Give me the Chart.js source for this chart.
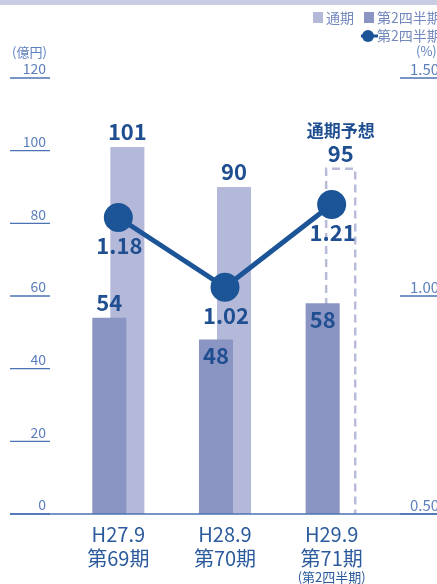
<!DOCTYPE html>
<html>
<head>
<meta charset="utf-8">
<script src="https://cdn.jsdelivr.net/npm/chart.js@4/dist/chart.umd.min.js"></script>
<style>
  html, body { margin: 0; padding: 0; background: #fff; overflow: hidden; }
</style>
</head>
<body>
<canvas id="chart" width="437" height="584"></canvas>
<script>
// data
const periods = [['H27.9', '第69期'], ['H28.9', '第70期'], ['H29.9', '第71期']];
const periodNotes = ['', '', '(第2四半期)'];
const fullYear = [101, 90, 95];        // 通期 (億円), last one is 通期予想
const secondQuarter = [54, 48, 58];    // 第2四半期 (億円)
const ratio = [1.18, 1.02, 1.21];      // 第2四半期 (%)
const leftTicks = [0, 20, 40, 60, 80, 100, 120];
const rightTicks = [0.5, 1.0, 1.5];

const FONT = '"Noto Sans CJK JP", "Noto Sans", sans-serif';
const LIGHT = '#b5b9d9';
const DARK = '#8a95c3';
const LINE = '#1c5597';
const LABEL = '#1f4f91';
const AXIS = '#5b7fbd';

const extras = {
  id: 'extras',
  beforeDatasetsDraw(chart) {
    // dashed outline for the forecast bar
    const ctx = chart.ctx;
    const el = chart.getDatasetMeta(2).data[2];
    const p = el.getProps(['x', 'y', 'base', 'width'], true);
    const l = p.x - p.width / 2 + 2.5, r = p.x + p.width / 2 - 2.5;
    ctx.save();
    ctx.strokeStyle = '#b8bcda';
    ctx.lineWidth = 2.5;
    ctx.setLineDash([8, 5]);
    ctx.beginPath();
    ctx.moveTo(l, p.base);
    ctx.lineTo(l, p.y);
    ctx.lineTo(r, p.y);
    ctx.lineTo(r, p.base);
    ctx.stroke();
    ctx.restore();
  },
  afterDatasetsDraw(chart) {
    const ctx = chart.ctx;
    ctx.save();
    ctx.fillStyle = LABEL;
    ctx.textAlign = 'center';
    ctx.textBaseline = 'middle';
    ctx.font = 'bold 22px ' + FONT;

    const fy = chart.getDatasetMeta(2).data;
    fy.forEach((el, i) => ctx.fillText(fullYear[i], el.x, el.y - 15));
    ctx.font = 'bold 17px ' + FONT;
    ctx.fillText('通期予想', fy[2].x, fy[2].y - 38);

    ctx.font = 'bold 22px ' + FONT;
    const q = chart.getDatasetMeta(1).data;
    q.forEach((el, i) => {
      const dy = i === 0 ? -15 : 16;
      ctx.fillText(secondQuarter[i], el.x, el.y + dy);
    });

    const pts = chart.getDatasetMeta(0).data;
    pts.forEach((el, i) => ctx.fillText(ratio[i].toFixed(2), el.x + 1, el.y + 28));
    ctx.restore();
  },
  afterDraw(chart) {
    const ctx = chart.ctx;
    const y = chart.scales.y, y1 = chart.scales.y1, x = chart.scales.x;
    const W = chart.width;
    ctx.save();

    // top band
    ctx.fillStyle = '#c9cde4';
    ctx.fillRect(0, 0, W, 5);

    // axes
    ctx.textBaseline = 'middle';
    ctx.strokeStyle = '#4a72b5';
    ctx.lineWidth = 1.3;
    ctx.font = '14px ' + FONT;
    leftTicks.forEach(v => {
      const py = y.getPixelForValue(v);
      ctx.fillStyle = AXIS;
      ctx.textAlign = 'right';
      ctx.fillText(v, 46, py - 9);
      ctx.beginPath();
      ctx.moveTo(10, py);
      ctx.lineTo(50, py);
      ctx.stroke();
    });
    ctx.font = '15px ' + FONT;
    rightTicks.forEach(v => {
      const py = y1.getPixelForValue(v);
      ctx.fillStyle = AXIS;
      ctx.textAlign = 'left';
      ctx.fillText(v.toFixed(2), 410, py - 9);
      ctx.beginPath();
      ctx.moveTo(400, py);
      ctx.lineTo(W, py);
      ctx.stroke();
    });
    // baseline
    ctx.beginPath();
    ctx.moveTo(10, y.getPixelForValue(0));
    ctx.lineTo(W, y.getPixelForValue(0));
    ctx.stroke();

    ctx.font = '13px ' + FONT;
    ctx.textAlign = 'left';
    ctx.fillText('(億円)', 12, 52);
    ctx.fillText('(%)', 416, 51);

    // category labels
    ctx.fillStyle = '#2b5b9d';
    ctx.textAlign = 'center';
    periods.forEach((p, i) => {
      const px = x.getPixelForValue(i);
      ctx.font = '20px ' + FONT;
      ctx.fillText(p[0], px, 534);
      ctx.fillText(p[1], px, 558);
      if (periodNotes[i]) {
        ctx.font = '13px ' + FONT;
        ctx.fillText(periodNotes[i], px, 577);
      }
    });

    // legend
    ctx.font = '14px ' + FONT;
    ctx.textAlign = 'left';
    ctx.fillStyle = LIGHT;
    ctx.fillRect(313, 12, 10, 11);
    ctx.fillStyle = DARK;
    ctx.fillRect(364, 12, 10, 11);
    ctx.fillStyle = '#7388bd';
    ctx.fillText(chart.data.datasets[2].label, 326, 18);
    ctx.fillText(chart.data.datasets[1].label, 377, 18);
    ctx.strokeStyle = LINE;
    ctx.lineWidth = 3;
    ctx.beginPath();
    ctx.moveTo(361, 36);
    ctx.lineTo(378, 36);
    ctx.stroke();
    ctx.fillStyle = LINE;
    ctx.beginPath();
    ctx.arc(368, 36, 6, 0, Math.PI * 2);
    ctx.fill();
    ctx.fillStyle = '#7388bd';
    ctx.fillText(chart.data.datasets[0].label, 377, 36);

    ctx.restore();
  }
};

new Chart(document.getElementById('chart'), {
  type: 'bar',
  data: {
    labels: periods.map(p => p.join(' ')),
    datasets: [
      {
        type: 'line',
        label: '第2四半期',
        data: ratio,
        yAxisID: 'y1',
        order: -1,
        borderColor: LINE,
        backgroundColor: LINE,
        borderWidth: 5,
        pointRadius: 12,
        pointHoverRadius: 12,
        tension: 0
      },
      {
        label: '第2四半期',
        data: secondQuarter,
        yAxisID: 'y',
        order: 0,
        backgroundColor: DARK
      },
      {
        label: '通期',
        data: fullYear,
        yAxisID: 'y',
        order: 1,
        backgroundColor: [LIGHT, LIGHT, 'rgba(0,0,0,0)']
      }
    ]
  },
  options: {
    responsive: false,
    animation: false,
    layout: { padding: { left: 65, right: 52, top: 78, bottom: 70 } },
    datasets: {
      bar: { categoryPercentage: 0.338, barPercentage: 1.89 }
    },
    scales: {
      x: { display: false, offset: true },
      y: { display: false, min: 0, max: 120 },
      y1: { display: false, min: 0.5, max: 1.5, position: 'right' }
    },
    plugins: {
      legend: { display: false },
      tooltip: { enabled: false }
    }
  },
  plugins: [extras]
});
</script>
</body>
</html>
